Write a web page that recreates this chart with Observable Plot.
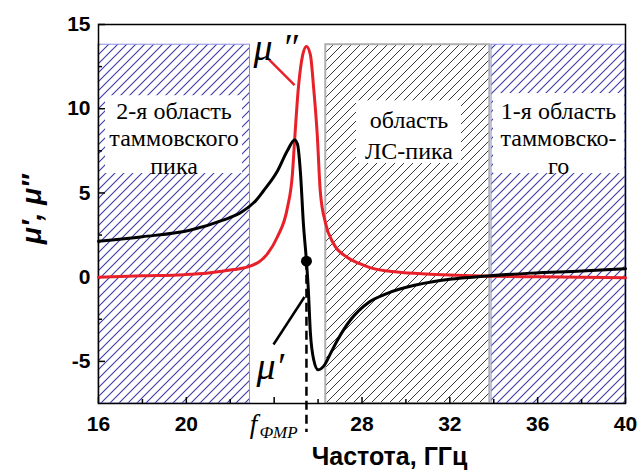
<!DOCTYPE html>
<html>
<head>
<meta charset="utf-8">
<script src="https://cdn.jsdelivr.net/npm/d3@7"></script>
<script src="https://cdn.jsdelivr.net/npm/@observablehq/plot@0.6"></script>
<style>
  html, body { margin: 0; padding: 0; background: white; }
</style>
</head>
<body>
<div id="chart"></div>
<script>
// ---- data ----
const fPrime = [16, 18, 20.2, 21.7, 22.5, 23.2, 23.5, 24.15, 24.6, 24.93, 25.06, 25.2, 25.33, 25.47, 25.55, 25.65, 25.8, 26.0, 26.3, 26.5, 26.9, 27.5, 28.3, 29.07, 30.5, 32.0, 33.7, 35.7, 38, 40];
const muPrime = [2.13, 2.4, 2.8, 3.4, 3.85, 4.6, 5.1, 6.3, 7.5, 8.15, 7.9, 6.15, 3.2, 0.95, -0.6, -3.3, -4.9, -5.5, -5.2, -4.7, -3.7, -2.5, -1.5, -1.0, -0.45, -0.12, 0.07, 0.24, 0.36, 0.5];

const fDouble = [16, 18, 19.9, 21, 22.15, 22.9, 23.7, 24.15, 24.6, 24.83, 24.93, 25.1, 25.3, 25.47, 25.65, 25.8, 25.96, 26.1, 26.34, 26.7, 27.3, 27.9, 28.4, 29.6, 31.1, 33.85, 36, 40];
const muDouble = [0, 0.08, 0.15, 0.25, 0.45, 0.65, 1.4, 2.4, 4.1, 6.1, 8.1, 11.2, 13.2, 13.7, 13.2, 11.2, 8.5, 5.1, 3.2, 2.0, 1.2, 0.8, 0.55, 0.3, 0.18, 0.06, 0.02, -0.03];

const fFMR = [25.47];
const muAtFMR = [0.95];

const regionNames = ["2-я область\nтаммовского\nпика", "область\nЛС-пика", "1-я область\nтаммовско-\nго"];
const regionStart = [16, 26.35, 33.9];
const regionEnd = [22.9, 33.82, 40];
const regionTop = [13.8, 13.8, 13.8];
const regionKind = ["blue", "gray", "blue"];

const xMajor = [16, 20, 24, 28, 32, 36, 40];
const xMinor = [18, 22, 26, 30, 34, 38];
const xLabels = [16, 20, 28, 32, 36, 40];
const yMajor = [-5, 0, 5, 10, 15];
const yMinor = [-2.5, 2.5, 7.5, 12.5];

const xTitle = "Частота, ГГц";
const yTitle = "μ′, μ″";

// ---- tables built from the arrays ----
const primeData = fPrime.map((f, i) => ({f, v: muPrime[i]}));
const doubleData = fDouble.map((f, i) => ({f, v: muDouble[i]}));
const regions = regionNames.map((name, i) => ({name, x1: regionStart[i], x2: regionEnd[i], top: regionTop[i], kind: regionKind[i]}));
const boxes = [
  {x1: 16.32, x2: 22.56, y1: 6.15, y2: 10.77, cx: 19.44, cy: 8.3},
  {x1: 27.75, x2: 32.53, y1: 6.75, y2: 10.47, cx: 30.14, cy: 8.55},
  {x1: 33.99, x2: 39.95, y1: 6.15, y2: 10.9, cx: 36.95, cy: 8.3}
].map((b, i) => ({...b, name: regionNames[i], lines: regionNames[i].split("\n").length}));

const serif = "Liberation Serif";

const svg = Plot.plot({
  width: 638,
  height: 473,
  marginLeft: 98,
  marginRight: 13,
  marginTop: 24,
  marginBottom: 70,
  style: {fontFamily: "'Liberation Sans', Arial, sans-serif", fontSize: "21px", fontWeight: "bold", color: "black", background: "white", overflow: "visible"},
  x: {domain: [16, 40], label: null},
  y: {domain: [-7.5, 15], label: null},
  marks: [
    // hatched regions
    Plot.rect(regions.filter(d => d.kind === "blue"), {x1: "x1", x2: "x2", y1: -7.5, y2: "top", fill: "url(#hatchBlue)", stroke: "#8c8ce0", strokeWidth: 1}),
    Plot.rect(regions.filter(d => d.kind === "gray"), {x1: "x1", x2: "x2", y1: -7.5, y2: "top", fill: "url(#hatchGray)", stroke: "#b0b0b0", strokeWidth: 2}),
    // white label boxes
    Plot.rect(boxes, {x1: "x1", x2: "x2", y1: "y1", y2: "y2", fill: "white"}),
    Plot.text(boxes.filter(d => d.lines === 3), {x: "cx", y: "cy", text: "name", fontFamily: serif, fontWeight: "normal", fontSize: 24, lineHeight: 1.15, fill: "black"}),
    Plot.text(boxes.filter(d => d.lines === 2), {x: "cx", y: "cy", text: "name", fontFamily: serif, fontWeight: "normal", fontSize: 24, lineHeight: 1.3, fill: "black"}),
    // frame
    Plot.frame({stroke: "black", strokeWidth: 1.5}),
    // ticks (inward)
    Plot.axisX(xMajor, {tickSize: -6, tickFormat: () => "", strokeWidth: 1.5}),
    Plot.axisX(xMinor, {tickSize: -4, tickFormat: () => "", strokeWidth: 1.5}),
    Plot.axisX(xLabels, {tickSize: 0, tickPadding: 13, tickFormat: d => String(d)}),
    Plot.axisY(yMajor, {tickSize: -7, tickFormat: () => "", strokeWidth: 1.5}),
    Plot.axisY(yMinor, {tickSize: -4, tickFormat: () => "", strokeWidth: 1.5}),
    Plot.axisY(yMajor, {tickSize: 0, tickPadding: 8, tickFormat: d => String(d)}),
    // dashed FMR line
    Plot.ruleX(fFMR, {x: d => d, y1: muAtFMR[0], y2: -9.22, stroke: "black", strokeWidth: 2.5, strokeDasharray: "9,5"}),
    // curves
    Plot.line(doubleData, {x: "f", y: "v", curve: "monotone-x", stroke: "#e8202a", strokeWidth: 3}),
    Plot.line(primeData, {x: "f", y: "v", curve: "monotone-x", stroke: "black", strokeWidth: 3}),
    Plot.dot(fFMR, {x: d => d, y: (d, i) => muAtFMR[i], r: 5.5, fill: "black"}),
    // curve labels with leader lines
    Plot.link([0], {x1: 23.7, y1: 13.0, x2: 24.93, y2: 11.4, stroke: "#e8202a", strokeWidth: 2.5}),
    Plot.text(["μ ″"], {x: 23.06, y: 13.6, textAnchor: "start", fontFamily: serif, fontStyle: "italic", fontWeight: "normal", fontSize: 38, fill: "black"}),
    Plot.link([0], {x1: 23.97, y1: -4.0, x2: 25.38, y2: -1.18, stroke: "black", strokeWidth: 2.5}),
    Plot.text(["μ′"], {x: 23.2, y: -5.3, textAnchor: "start", fontFamily: serif, fontStyle: "italic", fontWeight: "normal", fontSize: 38, fill: "black"}),
    // f_FMR label
    Plot.text(["f"], {x: 23.06, y: -8.75, fontFamily: serif, fontStyle: "italic", fontWeight: "normal", fontSize: 27, fill: "black"}),
    Plot.text(["ФМР"], {x: 23.33, y: -9.25, textAnchor: "start", fontFamily: serif, fontStyle: "italic", fontWeight: "normal", fontSize: 17, fill: "black"}),
    // axis titles
    Plot.text([xTitle], {frameAnchor: "bottom", dx: 27.5, dy: 61, fontSize: 25, fontWeight: "bold", fill: "black"}),
    Plot.text([yTitle], {frameAnchor: "left", dx: -66, dy: 30, rotate: -90, fontSize: 28, fontStyle: "italic", fontWeight: "bold", fill: "black"})
  ]
});

// hatch patterns
const defs = d3.select(svg).insert("defs", ":first-child");
const pb = defs.append("pattern").attr("id", "hatchBlue").attr("patternUnits", "userSpaceOnUse").attr("width", 9).attr("height", 9);
pb.append("rect").attr("width", 9).attr("height", 9).attr("fill", "white");
pb.append("path").attr("d", "M-2,2 L2,-2 M0,9 L9,0 M7,11 L11,7").attr("stroke", "#3a3aa8").attr("stroke-width", 1.1);
const pg = defs.append("pattern").attr("id", "hatchGray").attr("patternUnits", "userSpaceOnUse").attr("width", 9).attr("height", 9);
pg.append("rect").attr("width", 9).attr("height", 9).attr("fill", "white");
pg.append("path").attr("d", "M-2,2 L2,-2 M0,9 L9,0 M7,11 L11,7").attr("stroke", "#222").attr("stroke-width", 0.9);

document.getElementById("chart").appendChild(svg);
</script>
</body>
</html>
